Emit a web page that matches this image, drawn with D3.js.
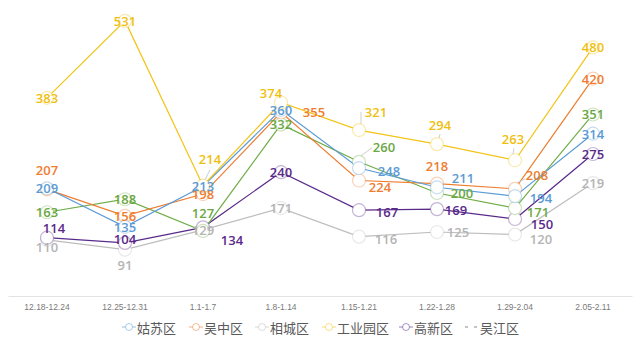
<!DOCTYPE html>
<html><head><meta charset="utf-8">
<script src="https://cdn.jsdelivr.net/npm/d3@7"></script>
<style>html,body{margin:0;padding:0;background:#fff;}svg{display:block;}</style>
</head><body><svg id="c" width="640" height="343"></svg>
<script>
const categories = ["12.18-12.24","12.25-12.31","1.1-1.7","1.8-1.14","1.15-1.21","1.22-1.28","1.29-2.04","2.05-2.11"];
const seriesNames = ["姑苏区","吴中区","相城区","工业园区","高新区","吴江区"];
const gusu      = [209,135,213,360,248,211,194,314];
const wuzhong   = [207,156,198,355,224,218,208,420];
const xiangcheng= [110, 91,129,171,116,125,120,219];
const gongye    = [383,531,214,374,321,294,263,480];
const gaoxin    = [114,104,134,240,167,169,150,275];
const wujiang   = [163,188,127,332,260,200,171,351];

const seriesValues = [gusu, wuzhong, xiangcheng, gongye, gaoxin, wujiang];
const colors = ["#5b9bd5","#ed7d31","#bdbdbd","#f2c418","#5a2a8a","#70ad47"];
const labelColors = ["#5b9bd5","#ed7d31","#b4b4b4","#f0bf10","#5a2a8a","#6aa843"];
// label offsets (layout only)
const offsets = [
  [[0,0],[0,0],[0,0],[0,0],[30,3],[26,-9],[26,2],[0,0]],
  [[0,-19],[0,0],[0,0],[33,0],[21,6],[0,-18],[22,-14],[0,0]],
  [[0,7],[0,15],[0,0],[0,0],[27,2],[21,0],[26,4],[0,0]],
  [[0,0],[0,0],[7,-27],[-10,-10],[17,-18],[3,-19],[-2,-21],[0,0]],
  [[7,-10],[0,-4],[29,13],[0,0],[28,2],[19,1],[27,5],[0,0]],
  [[0,0],[0,0],[0,-18],[0,0],[25,-15],[25,0],[23,4],[0,0]]
];
// leader lines: [series, index, endDx, endDy] (layout only)
const leaders = [[3,4,2,-18],[5,4,13,-14],[3,5,3,-10],[3,6,-1,-12],[1,6,10,-10],[3,2,7,-16]];

const svg = d3.select("#c");
const x = d3.scaleBand().domain(categories).range([8,632]);
const y = d3.scaleLinear().domain([0,600]).range([297,-15]);
const cx = c => x(c) + x.bandwidth()/2;

// axis
const xAxis = d3.axisBottom(x).tickSize(0).tickPadding(8);
const ax = svg.append("g").attr("transform","translate(0,296)").call(xAxis);
ax.select(".domain").attr("stroke","#e3e3e3");
ax.selectAll("text").attr("fill","#7a7a7a").style("font-family","'Liberation Sans',Arial,sans-serif").style("font-size","8.5px");

const line = d3.line().x((d,i)=>cx(categories[i])).y(d=>y(d));
const drawOrder = [2,4,5,1,0,3];
drawOrder.forEach(s=>{
  svg.append("path").datum(seriesValues[s]).attr("d",line)
    .attr("fill","none").attr("stroke",colors[s]).attr("stroke-width",1.2);
});
// leader lines
svg.append("g").selectAll("line").data(leaders).join("line")
  .attr("x1",d=>cx(categories[d[1]])+ (d[2]===0?0:Math.sign(d[2])*2))
  .attr("y1",d=>y(seriesValues[d[0]][d[1]])-6)
  .attr("x2",d=>cx(categories[d[1]])+d[2])
  .attr("y2",d=>y(seriesValues[d[0]][d[1]])+d[3])
  .attr("stroke","#cfcfcf").attr("stroke-width",1);
drawOrder.forEach(s=>{
  svg.append("g").selectAll("circle").data(seriesValues[s]).join("circle")
    .attr("cx",(d,i)=>cx(categories[i])).attr("cy",d=>y(d)).attr("r",6.5)
    .attr("fill","#fff").attr("stroke",colors[s]).attr("stroke-opacity",0.35).attr("stroke-width",1.2);
});
drawOrder.forEach(s=>{
  svg.append("g").selectAll("text").data(seriesValues[s]).join("text")
    .attr("x",(d,i)=>cx(categories[i])+offsets[s][i][0])
    .attr("y",(d,i)=>y(d)+offsets[s][i][1])
    .attr("text-anchor","middle").attr("dominant-baseline","central")
    .attr("fill",labelColors[s])
    .style("font-family","'Open Sans',sans-serif").style("font-weight","600").style("font-size","13px")
    .text(d=>d);
});

// legend
const legX = [122,189,255,322,399,465];
const lg = svg.append("g");
seriesNames.forEach((n,i)=>{
  const g = lg.append("g").attr("transform",`translate(${legX[i]},327)`);
  if(i<5){
    g.append("line").attr("x1",0).attr("x2",14).attr("y1",0).attr("y2",0).attr("stroke",colors[i]).attr("stroke-opacity",0.6);
    g.append("circle").attr("cx",7).attr("cy",0).attr("r",3.5).attr("fill","#fff").attr("stroke",colors[i]).attr("stroke-opacity",0.5);
  } else {
    g.append("line").attr("x1",0).attr("x2",14).attr("y1",0).attr("y2",0).attr("stroke","#888").attr("stroke-dasharray","3,6");
  }
  g.append("text").attr("x",15).attr("y",0).attr("dominant-baseline","central")
    .attr("fill","#595959").style("font-family","'Noto Sans CJK SC',sans-serif").style("font-size","13px").text(n);
});
</script></body></html>
